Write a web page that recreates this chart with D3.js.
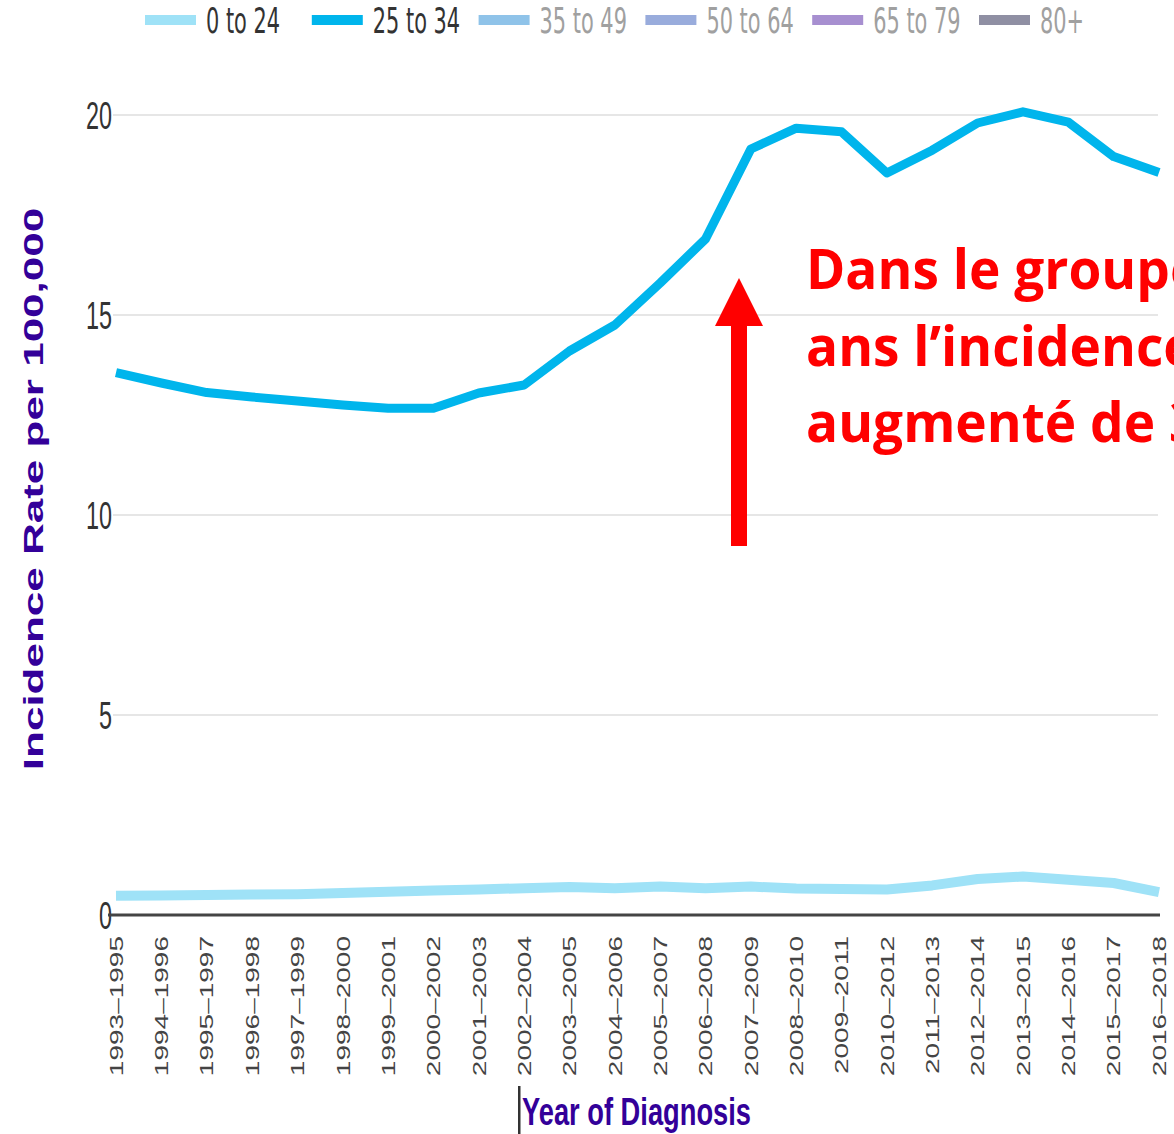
<!DOCTYPE html>
<html>
<head>
<meta charset="utf-8">
<script src="https://cdn.jsdelivr.net/npm/d3@7"></script>
<style>
  html, body { margin: 0; padding: 0; background: #fff; overflow: hidden; }
  svg { display: block; }
</style>
</head>
<body>
<svg id="chart" width="1174" height="1134"></svg>
<script>
// ---- Data ----
const categories = ["1993-1995","1994-1996","1995-1997","1996-1998","1997-1999","1998-2000",
  "1999-2001","2000-2002","2001-2003","2002-2004","2003-2005","2004-2006","2005-2007",
  "2006-2008","2007-2009","2008-2010","2009-2011","2010-2012","2011-2013","2012-2014",
  "2013-2015","2014-2016","2015-2017","2016-2018"];
const age0to24 = [0.48,0.49,0.50,0.51,0.52,0.55,0.58,0.61,0.64,0.67,0.70,0.67,0.71,0.67,
  0.71,0.66,0.65,0.64,0.74,0.90,0.96,0.88,0.80,0.57];
const age25to34 = [13.56,13.3,13.06,12.95,12.85,12.75,12.67,12.67,13.05,13.25,14.1,14.75,
  15.8,16.9,19.15,19.67,19.58,18.55,19.12,19.8,20.08,19.82,18.96,18.56];
const yTicks = [0,5,10,15,20];
const legendLabels = ["0 to 24","25 to 34","35 to 49","50 to 64","65 to 79","80+"];
const legendColors = ["#9fe2f7","#00b5ec","#8fc3e9","#99acdc","#a78fd0","#8f8fa3"];
const legendActive = [true,true,false,false,false,false];
const annotationLines = ["Dans le groupe d\u2019\u00e2ge 25-34","ans l\u2019incidence a","augment\u00e9 de 35%"];

// ---- Layout ----
const svg = d3.select("#chart");
const x = d3.scalePoint().domain(categories).range([116, 1159]);
const y = d3.scaleLinear().domain([0, 20]).range([915, 115]);

const FONT = "'Liberation Sans', Arial, sans-serif";

// grid lines
svg.append("g").selectAll("line").data(yTicks.filter(d => d > 0)).join("line")
  .attr("x1", 113).attr("x2", 1158)
  .attr("y1", d => y(d)).attr("y2", d => y(d))
  .attr("stroke", "#e6e6e6").attr("stroke-width", 2);

// y tick labels
svg.append("g").selectAll("text").data(yTicks).join("text")
  .attr("transform", d => `translate(112,${y(d)}) scale(0.6,1)`)
  .attr("dy", "0.36em")
  .attr("text-anchor", "end")
  .attr("font-family", FONT).attr("font-size", 39).attr("fill", "#333")
  .text(d => d);

// x axis baseline
svg.append("line")
  .attr("x1", 108).attr("x2", 1160).attr("y1", y(0)).attr("y2", y(0))
  .attr("stroke", "#444").attr("stroke-width", 3);

// x tick labels (rotated)
svg.append("g").selectAll("text").data(categories).join("text")
  .attr("transform", d => `translate(${x(d)},936) scale(0.67,1) rotate(-90)`)
  .attr("dy", "0.36em")
  .attr("text-anchor", "end")
  .attr("font-family", FONT).attr("font-size", 28).attr("fill", "#444")
  .text(d => d.replace("-", "\u2013"));

// lines
const line = d3.line().x((d, i) => x(categories[i])).y(d => y(d));
svg.append("path").datum(age0to24)
  .attr("d", line).attr("fill", "none")
  .attr("stroke", legendColors[0]).attr("stroke-width", 10)
  .attr("stroke-linejoin", "round");
svg.append("path").datum(age25to34)
  .attr("d", line).attr("fill", "none")
  .attr("stroke", legendColors[1]).attr("stroke-width", 9)
  .attr("stroke-linejoin", "round");

// legend
const lg = svg.append("g").selectAll("g").data(legendLabels).join("g")
  .attr("transform", (d, i) => `translate(${145 + i * 166.8},0)`);
lg.append("line")
  .attr("x1", 0).attr("x2", 51).attr("y1", 20).attr("y2", 20)
  .attr("stroke", (d, i) => legendColors[i]).attr("stroke-width", 10);
lg.append("text")
  .attr("transform", "translate(61,33) scale(0.58,1)")
  .attr("font-family", "'DejaVu Sans', sans-serif").attr("font-size", 36)
  .attr("fill", (d, i) => legendActive[i] ? "#333" : "#a0a0a0")
  .text(d => d);

// axis titles
svg.append("text")
  .attr("transform", "translate(33,489) scale(0.635,1) rotate(-90)")
  .attr("dy", "0.36em")
  .attr("text-anchor", "middle")
  .attr("font-family", FONT).attr("font-weight", "bold").attr("font-size", 44)
  .attr("fill", "#330099")
  .text("Incidence Rate per 100,000");

svg.append("text")
  .attr("transform", "translate(522,1125) scale(0.70,1)")
  .attr("font-family", FONT).attr("font-weight", "bold").attr("font-size", 39)
  .attr("fill", "#330099")
  .text("Year of Diagnosis");
// text cursor artefact
svg.append("rect").attr("x", 518).attr("y", 1086).attr("width", 2.5).attr("height", 48).attr("fill", "#333");

// annotation arrow
svg.append("rect").attr("x", 731).attr("y", 322).attr("width", 16).attr("height", 224).attr("fill", "#ff0000");
svg.append("path")
  .attr("d", d3.line()([[715,326],[739,278],[763,326]]) + "Z")
  .attr("fill", "#ff0000");

// annotation text
svg.append("g").selectAll("text").data(annotationLines).join("text")
  .attr("transform", (d, i) => `translate(806,${289 + i * 76.5}) scale(0.95,1)`)
  .attr("font-family", "'Open Sans', sans-serif").attr("font-weight", 700).attr("font-size", 56)
  .attr("fill", "#ff0000")
  .text(d => d);
</script>
</body>
</html>
